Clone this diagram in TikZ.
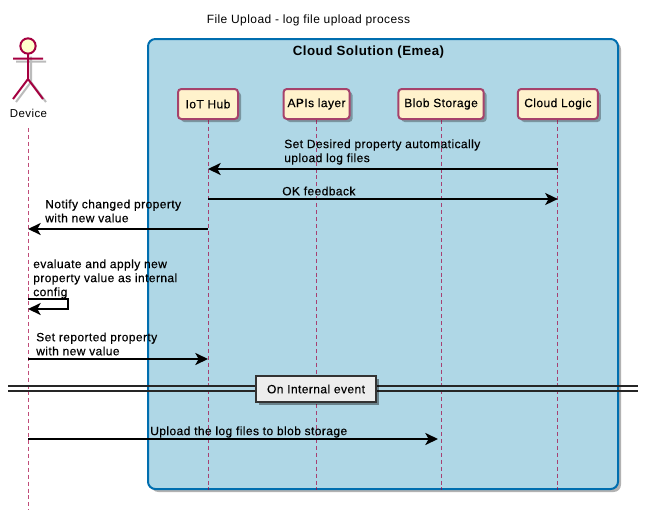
\documentclass[tikz,border=0pt]{standalone}
\usepackage{fontspec}
\setmainfont[LetterSpace=3.5]{Liberation Sans}
\newfontfamily\msgfont[LetterSpace=3.5,FakeBold=0.35]{Liberation Sans}
\usetikzlibrary{shapes,arrows.meta,shadows}
\definecolor{cloudfill}{HTML}{AFD7E6}
\definecolor{cloudline}{HTML}{006EAF}
\definecolor{partfill}{HTML}{FFF2CC}
\definecolor{partline}{HTML}{A6426B}
\definecolor{lifecolor}{HTML}{A50040}
\definecolor{headfill}{HTML}{FFFFCC}
\definecolor{shadowgray}{HTML}{BBBBBB}
\tikzstyle{cloudbox} = [draw=cloudline, fill=cloudfill, rectangle, rounded corners=5.5pt, line width=1.5pt,
    minimum width=352.5pt, minimum height=337.5pt,
    drop shadow={shadow xshift=2.25pt, shadow yshift=-2.25pt, fill=black, opacity=0.3}]
\tikzstyle{block} = [draw=partline, fill=partfill, rectangle, rounded corners=2.5pt, line width=1.5pt,
    minimum height=22.5pt, inner xsep=0pt, font=\fontsize{9}{9}\msgfont,
    drop shadow={shadow xshift=2.25pt, shadow yshift=-2.25pt, fill=black, opacity=0.3}]
\tikzstyle{eventbox} = [draw=black!80, fill=black!7, rectangle, line width=1.5pt,
    minimum height=19.5pt, minimum width=90pt, font=\fontsize{9}{9}\msgfont,
    drop shadow={shadow xshift=2.25pt, shadow yshift=-2.25pt, fill=black, opacity=0.4}]
\tikzstyle{lifeline} = [lifecolor, opacity=0.7, line width=0.75pt, dash pattern=on 3pt off 2.2pt]
\tikzstyle{message} = [line width=1.5pt, ->]
\tikzstyle{msgtext} = [align=left, anchor=west, inner sep=0pt, font=\fontsize{9}{10.5}\msgfont]

\begin{document}
\begin{tikzpicture}[x=0.75pt, y=-0.75pt, >={Stealth[length=9.5pt, width=9pt, inset=2.5pt]}]
    \useasboundingbox (0,0) rectangle (647,518);
    % We start by placing the frame and the blocks
    \node [cloudbox, name=cloud] at (383,264) {};
    \node [font=\fontsize{10}{10}\selectfont\bfseries, name=cloudtitle] at (368.5,52) {Cloud Solution (Emea)};
    \node [font=\fontsize{9}{9}\selectfont, name=title] at (308.5,20.5) {File Upload - log file upload process};
    % Free ends of the lifelines
    \coordinate (devtop) at (28,128);
    \coordinate (devend) at (28,510);
    \coordinate (iotpos) at (208,104);
    \draw [lifeline] (devtop) -- (devend);
    % The actor is drawn twice, its shadow first
    \foreach \col/\off in {shadowgray/3, lifecolor/0} {
        \draw [\col, line width=1.5pt, shift={(\off,\off)}]
            (13,58.5) -- (43,58.5) (28,53.5) -- (28,79) (13,99) -- (28,79) -- (43,99);
    }
    \node [circle, draw=lifecolor, fill=headfill, line width=1.5pt, minimum size=11.5pt, inner sep=0pt, name=head] at (28,46) {};
    \node [font=\fontsize{8.6}{9}\selectfont, name=device] at (28.5,113) {Device};
    \node [block, minimum width=45pt, name=iot] at (iotpos) {IoT Hub};
    \node [block, minimum width=49.5pt, right of=iot, node distance=81.4pt] (apis) {APIs layer};
    \node [block, minimum width=64pt, right of=apis, node distance=93.4pt] (blob) {Blob Storage};
    \node [block, minimum width=60pt, right of=blob, node distance=87.6pt] (logic) {Cloud Logic};
    \coordinate (iotend) at (iot |- cloud.south);
    \coordinate (apisend) at (apis |- cloud.south);
    \coordinate (blobend) at (blob |- cloud.south);
    \coordinate (logicend) at (logic |- cloud.south);
    \draw [lifeline] (iot.south) -- (iotend);
    \draw [lifeline] (apis.south) -- (apisend);
    \draw [lifeline] (blob.south) -- (blobend);
    \draw [lifeline] (logic.south) -- (logicend);
    % Message ends on the lifelines
    \coordinate (logicA) at (logic |- 0,169);
    \coordinate (iotA) at (iot |- 0,169);
    \coordinate (iotB) at (iot |- 0,199);
    \coordinate (logicB) at (logic |- 0,199);
    \coordinate (iotC) at (iot |- 0,229);
    \coordinate (devC) at (28,229);
    \coordinate (devD) at (28,299);
    \coordinate (loopA) at (68,299);
    \coordinate (loopB) at (68,309);
    \coordinate (devE) at (28,309);
    \coordinate (devF) at (28,359);
    \coordinate (iotF) at (iot |- 0,359);
    \coordinate (devG) at (28,439);
    \coordinate (blobG) at (438,439);
    % We draw the messages between the lifelines
    \draw [message] (logicA) -- (iotA);
    \draw [message] (iotB) -- (logicB);
    \draw [message] (iotC) -- (devC);
    \draw [message] (devD) -- (loopA) -- (loopB) -- (devE);
    \draw [message] (devF) -- (iotF);
    \draw [message] (devG) -- (blobG);
    \node [msgtext, name=setdesired] at (284,152) {Set Desired property automatically\\upload log files};
    \node [msgtext, name=okfeed] at (282,191) {OK feedback};
    \node [msgtext, name=notify] at (45,211) {Notify changed property\\with new value};
    \node [msgtext, name=evaluate] at (33,279) {evaluate and apply new\\property value as internal\\config};
    \node [msgtext, name=setreported] at (36,344) {Set reported property\\with new value};
    \node [msgtext, name=upload] at (150,432) {Upload the log files to blob storage};
    % The divider and its box
    \coordinate (divA) at (8,386);
    \coordinate (divB) at (638,386);
    \coordinate (divC) at (8,391);
    \coordinate (divD) at (638,391);
    \draw [line width=1.1pt, black!85] (divA) -- (divB);
    \draw [line width=1.1pt, black!85] (divC) -- (divD);
    \node [eventbox, name=event] at (316,389) {On Internal event};
\end{tikzpicture}
\end{document}
